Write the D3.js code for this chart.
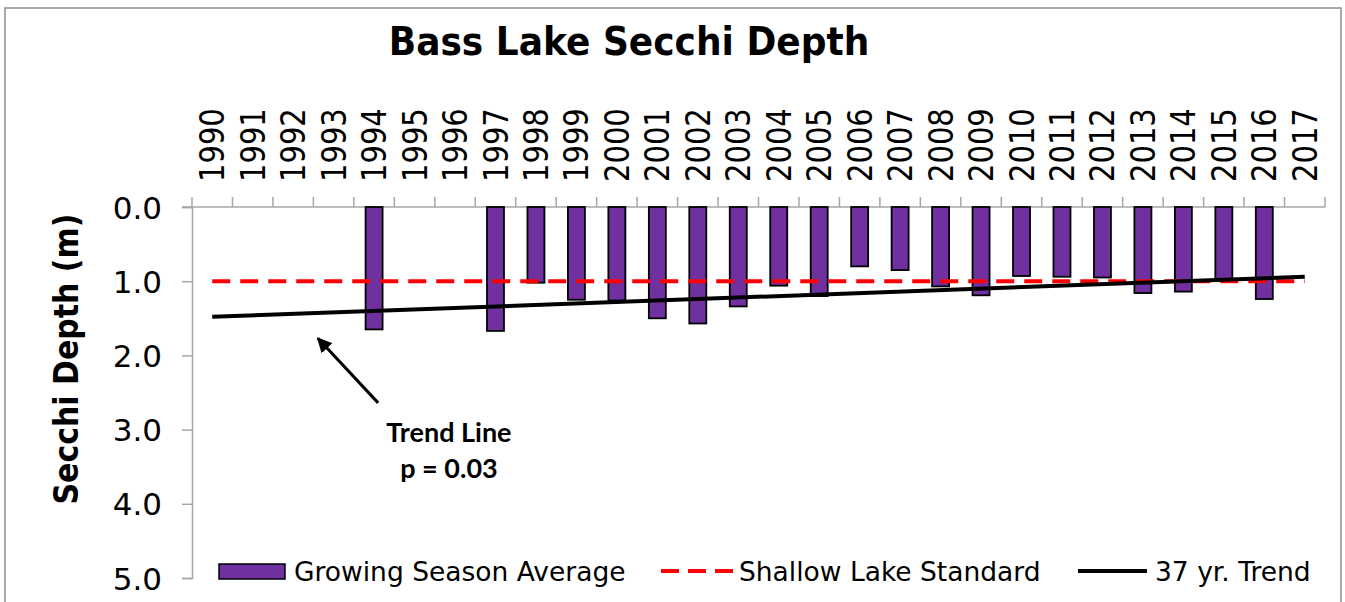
<!DOCTYPE html>
<html>

<head>
    <script src="https://cdn.jsdelivr.net/npm/d3@7"></script>
    <style>
        body { margin: 0; background: #fff; }
        text { font-family: "DejaVu Sans", Verdana, sans-serif; }
        text.note { font-family: Lato, "Open Sans", sans-serif; }
    </style>
</head>

<body>
    <div id="container">
        <svg width="1345" height="602"></svg>
    </div>
    <script>
        // Years on the axis and growing season average Secchi depth (m); null = no data
        const years = ["1990", "1991", "1992", "1993", "1994", "1995", "1996", "1997", "1998", "1999",
            "2000", "2001", "2002", "2003", "2004", "2005", "2006", "2007", "2008", "2009",
            "2010", "2011", "2012", "2013", "2014", "2015", "2016", "2017"];
        const secchi = [null, null, null, null, 1.65, null, null, 1.67, 1.02, 1.25,
            1.26, 1.50, 1.57, 1.34, 1.06, 1.20, 0.80, 0.85, 1.07, 1.19,
            0.93, 0.94, 0.95, 1.16, 1.14, 0.98, 1.24, null];
        const standard = 1.0;
        const trendStart = { year: "1990", depth: 1.48 };
        const trendEnd = { year: "2017", depth: 0.94 };
        const yTicks = [0, 1, 2, 3, 4, 5];
        const seriesNames = ["Growing Season Average", "Shallow Lake Standard", "37 yr. Trend"];

        const data = years.map((y, i) => ({ year: y, value: secchi[i] }));

        const svg = d3.select("svg");
        const margin = { top: 207, right: 20, bottom: 24, left: 192 };
        const width = 1325 - margin.left;
        const height = 578 - margin.top;

        // frame
        svg.append("rect")
            .attr("x", 5).attr("y", 8)
            .attr("width", 1336).attr("height", 610)
            .attr("fill", "#fff")
            .attr("stroke", "#8c8c8c")
            .attr("stroke-width", 1.5);

        svg.append("text")
            .attr("transform", "translate(629,55) scale(1,1.08)")
            .attr("text-anchor", "middle")
            .attr("font-size", 36)
            .attr("font-weight", "bold")
            .text("Bass Lake Secchi Depth");

        const g = svg.append("g")
            .attr("transform", `translate(${margin.left},${margin.top})`);

        const x = d3.scaleBand().domain(years).range([0, width]).paddingInner(0.58).paddingOuter(0.29);
        const xi = d3.scaleLinear().domain([0, years.length]).range([0, width]);
        const y = d3.scaleLinear().domain([0, 5]).range([0, height]);
        const xc = yr => x(yr) + x.bandwidth() / 2;

        const axisColor = "#a6a6a6";

        // y axis
        const yAxis = g.append("g")
            .call(d3.axisLeft(y).tickValues(yTicks).tickSize(10).tickPadding(20).tickFormat(d3.format(".1f")));
        yAxis.select(".domain").attr("stroke", axisColor).attr("stroke-width", 1.5);
        yAxis.selectAll(".tick line").attr("stroke", axisColor).attr("stroke-width", 1.5);
        yAxis.selectAll(".tick text")
            .attr("font-size", 31)
            .attr("fill", "#000")
            .attr("dy", "0.36em");

        // x axis at top: tick marks on band boundaries
        g.append("line")
            .attr("x1", -10).attr("x2", width)
            .attr("y1", 0).attr("y2", 0)
            .attr("stroke", axisColor).attr("stroke-width", 1.5);
        g.selectAll(".xtick")
            .data(d3.range(years.length + 1))
            .enter().append("line")
            .attr("class", "xtick")
            .attr("x1", d => xi(d)).attr("x2", d => xi(d))
            .attr("y1", -10).attr("y2", 0)
            .attr("stroke", axisColor).attr("stroke-width", 1.5);
        g.selectAll(".xlabel")
            .data(years)
            .enter().append("text")
            .attr("class", "xlabel")
            .attr("transform", d => `translate(${xc(d)},-25) rotate(-90) scale(1,1.15)`)
            .attr("dy", "0.36em")
            .attr("font-size", 29)
            .text(d => d);

        // y axis title
        svg.append("text")
            .attr("transform", "translate(66,359) rotate(-90) scale(1,1.15)")
            .attr("text-anchor", "middle")
            .attr("dy", "0.36em")
            .attr("font-size", 30)
            .attr("font-weight", "bold")
            .text("Secchi Depth (m)");

        // bars hanging down from the surface
        g.selectAll(".bar")
            .data(data.filter(d => d.value != null))
            .enter().append("rect")
            .attr("class", "bar")
            .attr("x", d => x(d.year))
            .attr("y", y(0))
            .attr("width", x.bandwidth())
            .attr("height", d => y(d.value) - y(0))
            .attr("fill", "#7030a0")
            .attr("stroke", "#000")
            .attr("stroke-width", 1.8);

        // shallow lake standard
        g.append("line")
            .attr("x1", xc(years[0])).attr("x2", xc(years[years.length - 1]))
            .attr("y1", y(standard)).attr("y2", y(standard))
            .attr("stroke", "#ff0000")
            .attr("stroke-width", 4)
            .attr("stroke-dasharray", "18,10");

        // trend line
        g.append("line")
            .attr("x1", xc(trendStart.year)).attr("y1", y(trendStart.depth))
            .attr("x2", xc(trendEnd.year)).attr("y2", y(trendEnd.depth))
            .attr("stroke", "#000")
            .attr("stroke-width", 4);

        // annotation arrow + label
        svg.append("defs").append("marker")
            .attr("id", "arrow")
            .attr("viewBox", "0 0 10 10")
            .attr("refX", 9).attr("refY", 5)
            .attr("markerWidth", 5).attr("markerHeight", 5)
            .attr("markerUnits", "strokeWidth")
            .attr("orient", "auto")
            .append("path")
            .attr("d", "M0,0L10,5L0,10z")
            .attr("fill", "#000");

        g.append("line")
            .attr("x1", xi(4.6)).attr("y1", y(2.64))
            .attr("x2", xi(3.11)).attr("y2", y(1.77))
            .attr("stroke", "#000")
            .attr("stroke-width", 3)
            .attr("marker-end", "url(#arrow)");

        const note = g.append("text")
            .attr("class", "note")
            .attr("text-anchor", "middle")
            .attr("font-weight", "bold")
            .attr("font-size", 27);
        note.append("tspan").attr("x", xi(6.35)).attr("y", y(3.17)).text("Trend Line");
        note.append("tspan").attr("x", xi(6.35)).attr("y", y(3.65)).text("p = 0.03");

        // legend
        const legend = svg.append("g").attr("font-size", 26.5);
        legend.append("rect")
            .attr("x", 219).attr("y", 564)
            .attr("width", 66).attr("height", 15)
            .attr("fill", "#7030a0").attr("stroke", "#000").attr("stroke-width", 1.5);
        legend.append("text").attr("x", 294).attr("y", 581).text(seriesNames[0]);
        legend.append("line")
            .attr("x1", 661).attr("x2", 733).attr("y1", 571).attr("y2", 571)
            .attr("stroke", "#ff0000").attr("stroke-width", 4).attr("stroke-dasharray", "18,9");
        legend.append("text").attr("x", 739).attr("y", 581).text(seriesNames[1]);
        legend.append("line")
            .attr("x1", 1078).attr("x2", 1147).attr("y1", 571).attr("y2", 571)
            .attr("stroke", "#000").attr("stroke-width", 4);
        legend.append("text").attr("x", 1155).attr("y", 581).text(seriesNames[2]);
    </script>
</body>

</html>
